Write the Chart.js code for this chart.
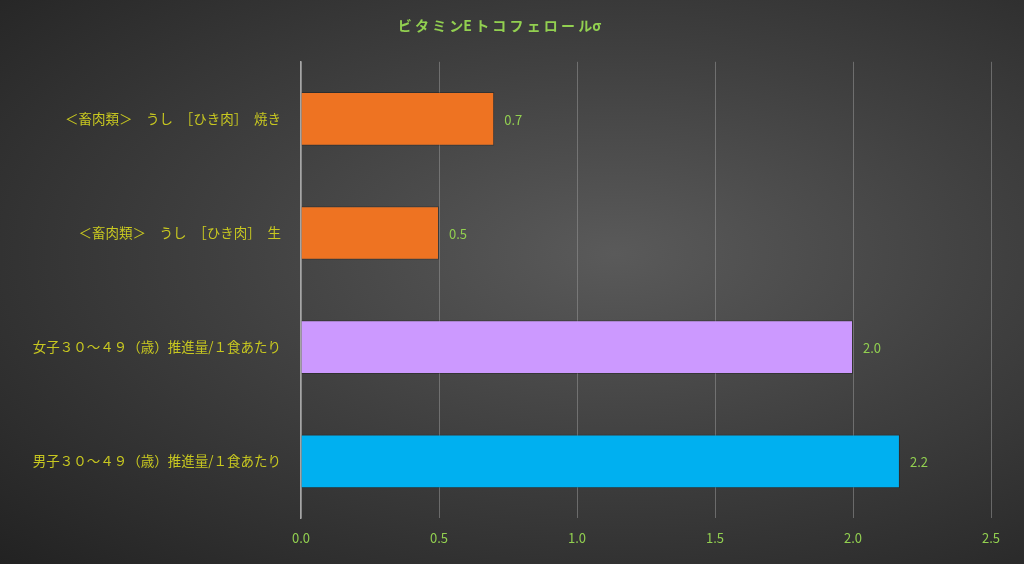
<!DOCTYPE html>
<html>
<head>
<meta charset="utf-8">
<script src="https://cdn.jsdelivr.net/npm/chart.js@4/dist/chart.umd.min.js"></script>
<style>
  html, body { margin: 0; padding: 0; }
  body {
    width: 1024px; height: 564px; overflow: hidden;
    background: radial-gradient(ellipse at 60% 45%, #5a5a5a 0%, #404040 45%, #222 100%);
  }
  #wrap { width: 1024px; height: 564px; }
</style>
</head>
<body>
<div id="wrap"><canvas id="chart" width="1024" height="564"></canvas></div>
<script>
const titleText = "ビ タ ミ ンE ト コ フ ェ ロ ー ルσ";
const categories = [
  "＜畜肉類＞　うし　［ひき肉］　焼き",
  "＜畜肉類＞　うし　［ひき肉］　生",
  "女子３０～４９（歳）推進量/１食あたり",
  "男子３０～４９（歳）推進量/１食あたり"
];
const values = [0.7, 0.5, 2.0, 2.17];
const barColors = ["#ee7322", "#ee7322", "#cc99ff", "#00b0f0"];
const xTicks = [0, 0.5, 1, 1.5, 2, 2.5];

const font = '"Noto Sans CJK JP", "Noto Sans", sans-serif';

const valueLabels = {
  id: "valueLabels",
  afterDatasetsDraw(chart) {
    const ctx = chart.ctx;
    const meta = chart.getDatasetMeta(0);
    ctx.save();
    ctx.fillStyle = "#92d050";
    ctx.font = "13px " + font;
    ctx.textBaseline = "middle";
    meta.data.forEach((bar, i) => {
      ctx.fillText(values[i].toFixed(1), bar.x + 10, bar.y + 1);
    });
    ctx.restore();
  }
};

new Chart(document.getElementById("chart"), {
  type: "bar",
  data: {
    labels: categories,
    datasets: [{
      data: values,
      backgroundColor: barColors,
      borderColor: "rgba(0,0,0,0.25)",
      borderWidth: 1,
      barPercentage: 0.94,
      categoryPercentage: 0.5
    }]
  },
  options: {
    indexAxis: "y",
    responsive: false,
    animation: false,
    layout: { padding: { left: 8, right: 33, top: 0, bottom: 6 } },
    plugins: {
      legend: { display: false },
      tooltip: { enabled: false },
      title: {
        display: true,
        text: titleText,
        color: "#92d050",
        font: { family: font, size: 14, weight: "bold" },
        padding: { top: 17, bottom: 28 }
      }
    },
    scales: {
      x: {
        min: 0, max: 2.5,
        afterBuildTicks: (axis) => { axis.ticks = xTicks.map(v => ({ value: v })); },
        ticks: {
          color: "#92d050",
          font: { family: font, size: 13 },
          padding: 12,
          callback: (v) => Number(v).toFixed(1)
        },
        grid: { color: "rgba(150,150,150,0.55)", drawTicks: false },
        border: { display: false }
      },
      y: {
        afterFit: (axis) => { axis.width = 293; },
        ticks: {
          color: "#c8c820",
          font: { family: font, size: 13.5 },
          padding: 12
        },
        grid: { display: false },
        border: { color: "#a6a6a6", width: 1.5 }
      }
    }
  },
  plugins: [valueLabels]
});
</script>
</body>
</html>
